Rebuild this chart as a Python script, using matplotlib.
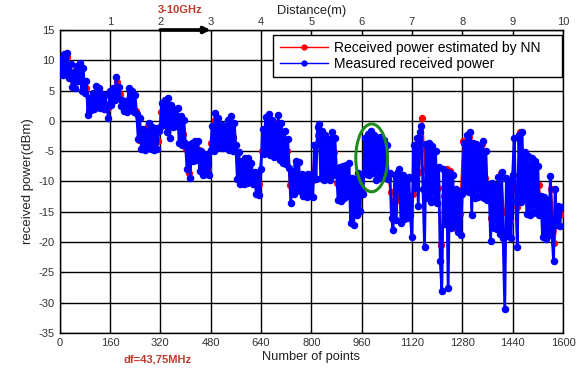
import numpy as np
import matplotlib
matplotlib.use("Agg")
import matplotlib.pyplot as plt
from matplotlib.patches import Ellipse

plt.rcParams["font.family"] = ["Liberation Sans", "DejaVu Sans"]
plt.rcParams["axes.unicode_minus"] = False

# Measured received power (dBm), one sample every 5 points
measured_step = 5
measured = [
    7.8, 10.2, 7.6, 11.0, 8.2, 11.2, 7.0, 9.4, 5.6, 8.0, 5.4, 9.0, 6.6, 9.6, 5.0, 8.8, 4.6, 6.6, 1.0, 3.8,
    1.8, 4.6, 2.0, 5.8, 2.4, 5.4, 2.2, 4.4, 2.0, 4.2, 2.4, 0.5, 5.0, 2.6, 5.4, 3.4, 7.2, 3.8, 5.6, 2.4,
    3.4, 1.6, 3.2, 1.4, 5.4, 2.0, 5.0, 1.4, 4.2, 1.2, -3.0, 0.4, -4.6, -1.4, -4.8, -1.8, -4.0, -0.4, -4.6, -1.0,
    -4.8, -1.2, -4.6, -1.6, -1.0, 3.0, -0.6, 3.4, -1.8, 3.8, -2.8, 2.6, -1.0, 2.0, -0.8, 2.2, -3.6, 0.8, -3.9, 0.2,
    -3.6, -8.0, -4.0, -9.4, -3.6, -6.6, -3.4, -6.4, -3.4, -8.2, -5.0, -9.0, -5.4, -8.8, -5.6, -9.0, -4.8, -0.8, -5.0, 1.3,
    -4.4, 0.4, -4.2, -0.6, -4.4, -0.8, -4.2, 0.2, -4.8, 0.8, -5.0, -0.4, -3.9, -9.6, -5.2, -10.4, -6.6, -10.4, -6.2, -10.2,
    -6.2, -10.0, -7.0, -10.4, -8.4, -12.0, -8.6, -12.2, -8.0, -1.4, -5.4, 0.6, -5.0, 1.1, -5.6, 0.2, -6.0, -0.6, -5.4, 0.9,
    -6.4, -0.4, -7.0, -1.6, -7.1, -3.0, -7.8, -13.6, -8.2, -12.0, -6.6, -11.4, -6.8, -11.6, -8.8, -12.4, -9.0, -12.6, -8.8, -12.2,
    -9.0, -12.6, -4.0, -9.6, -1.0, -0.5, -9.4, -1.6, -9.8, -2.4, -9.6, -3.0, -9.8, -1.9, -9.0, -2.8, -8.0, -13.0, -7.6, -13.2,
    -7.4, -12.8, -7.2, -12.4, -7.0, -16.8, -9.4, -17.2, -9.6, -15.6, -8.6, -14.8, -8.8, -12.0, -2.8, -8.8, -2.2, -9.0, -1.7, -8.6,
    -2.4, -9.8, -3.0, -9.4, -2.6, -8.8, -3.2, -9.2, -4.0, -9.6, -8.6, -16.0, -18.0, -9.0, -16.4, -8.4, -8.0, -16.8, -9.0, -16.2,
    -9.6, -16.0, -9.2, -15.6, -19.2, -4.0, -11.0, -2.8, -14.0, -1.8, -0.8, -11.2, -20.8, -3.8, -12.8, -3.6, -13.4, -4.2, -13.0, -5.0,
    -13.6, -7.6, -23.2, -28.0, -8.0, -17.0, -8.4, -27.6, -8.6, -17.6, -9.0, -17.2, -11.2, -18.4, -11.6, -18.8, -12.0, -3.6, -11.6, -2.4,
    -11.8, -1.9, -15.6, -3.6, -12.8, -3.8, -12.6, -4.2, -12.4, -3.3, -12.8, -5.0, -13.0, -10.4, -19.8, -10.2, -17.6, -10.6, -17.8, -9.2,
    -18.6, -8.5, -19.4, -31.0, -9.4, -19.0, -10.0, -19.4, -9.0, -2.8, -13.2, -20.8, -2.4, -13.4, -1.9, -12.6, -5.2, -15.4, -5.8, -15.6,
    -6.2, -15.2, -6.6, -15.0, -7.4, -15.6, -12.4, -19.2, -12.6, -19.5, -13.0, -18.8, -9.1, -18.2, -23.2, -11.2, -17.2, -14.0, -17.3, -14.2,
]

# Received power estimated by the neural network (dBm), one sample every 10 points
nn_step = 10
nn_offset = 2.5
estimated = [
    9.0, 10.2, 10.6, 8.0, 6.6, 8.4, 8.8, 6.8, 5.4, 1.6,
    2.6, 4.0, 4.6, 3.4, 3.0, 2.2, 3.8, 4.4, 6.4, 4.4,
    2.6, 2.2, 4.6, 3.0, 1.6, -3.2, -3.0, -3.4, -0.8, -2.8,
    -3.0, -3.4, 1.4, 2.2, 2.6, -0.4, 0.4, 0.8, -0.2, -2.2,
    -4.6, -8.6, -5.8, -5.0, -4.8, -7.0, -7.2, -8.0, -3.6, 0.2,
    -1.2, -2.8, -2.4, -2.0, -0.6, -2.6, -5.2, -8.4, -8.6, -8.0,
    -8.0, -8.8, -9.6, -10.4, -5.0, -2.2, -1.0, -3.2, -2.4, -0.4,
    -2.2, -4.2, -5.0, -10.6, -10.2, -7.2, -9.8, -10.6, -10.8, -10.2,
    -10.0, -4.0, -2.4, -2.8, -5.8, -7.2, -4.6, -5.2, -10.2, -11.0,
    -10.2, -11.2, -9.4, -13.6, -14.0, -11.8, -11.4, -3.8, -4.6, -3.6,
    -5.4, -6.6, -5.0, -5.2, -8.6, -11.8, -14.6, -13.0, -10.8, -13.2,
    -12.4, -13.0, -12.0, -5.8, -8.4, 0.4, -8.0, -7.8, -8.0, -7.6,
    -11.0, -20.4, -12.4, -8.0, -8.2, -12.2, -17.8, -15.4, -3.4, -6.6,
    -2.6, -9.2, -7.6, -9.4, -3.8, -9.4, -11.6, -16.0, -13.4, -14.6,
    -8.6, -15.0, -15.0, -16.6, -9.0, -14.2, -1.9, -5.6, -8.4, -10.0,
    -11.6, -8.6, -10.6, -13.6, -16.0, -15.6, -11.2, -20.2, -15.6, -15.4,
]

x_ticks = [0, 160, 320, 480, 640, 800, 960, 1120, 1280, 1440, 1600]
y_ticks = [15, 10, 5, 0, -5, -10, -15, -20, -25, -30, -35]
distance_ticks = [1, 2, 3, 4, 5, 6, 7, 8, 9, 10]
points_per_metre = 160

x_meas = np.arange(len(measured)) * measured_step
x_nn = np.arange(len(estimated)) * nn_step + nn_offset

fig = plt.figure(figsize=(5.84, 3.70), dpi=100)
ax = fig.add_axes([0.102, 0.100, 0.862, 0.819])

ax.plot(x_nn, estimated, color="red", lw=1.4, marker="o", ms=4.2, mec="red", mfc="red",
        label="Received power estimated by NN    ", zorder=3)
ax.plot(x_meas, measured, color="blue", lw=2.0, marker="o", ms=4.4, mec="blue", mfc="blue",
        label="Measured received power", zorder=4)

ax.set_xlim(0, 1600)
ax.set_ylim(-35, 15)
ax.set_xticks(x_ticks)
ax.set_yticks(y_ticks)
ax.tick_params(direction="in", length=3, labelsize=8, colors="black", labelcolor="#333333")
ax.grid(True, color="black", lw=1.0)
for sp in ax.spines.values():
    sp.set_color("black")
    sp.set_linewidth(1.0)

ax.set_xlabel("Number of points", fontsize=9.3, color="#222222", labelpad=2)
ax.set_ylabel("received power(dBm)", fontsize=9.5, color="#222222", labelpad=3)

top = ax.secondary_xaxis("top", functions=(lambda p: p / points_per_metre,
                                           lambda d: d * points_per_metre))
top.set_xticks(distance_ticks)
top.tick_params(direction="in", length=3, labelsize=8, labelcolor="#333333", pad=2)
top.set_xlabel("Distance(m)", fontsize=9.3, color="#222222", labelpad=2)

# Frequency span marker between 2 m and 3 m
ax.annotate("", xy=(480, 15), xytext=(320, 15), annotation_clip=False,
            arrowprops=dict(arrowstyle="-|>", lw=2.6, color="black",
                            mutation_scale=9, shrinkA=0, shrinkB=0), zorder=6)

# Highlighted region
ax.add_patch(Ellipse((992, -6.1), width=101, height=11.2, fill=False,
                     edgecolor="#1f8a1f", lw=2.2, zorder=6))

fig.text(180 / 584, 1 - 10 / 370, "3-10GHz", color="#c0392b", fontsize=8,
         fontweight="bold", ha="center", va="center")
fig.text(158 / 584, 1 - 360 / 370, "df=43,75MHz", color="#c0392b", fontsize=8,
         fontweight="bold", ha="center", va="center")

leg = ax.legend(loc="upper right", bbox_to_anchor=(0.998, 0.985), borderaxespad=0.0,
                fontsize=10, handlelength=3.5, frameon=True, fancybox=False,
                framealpha=1.0, edgecolor="black", borderpad=0.45, labelspacing=0.15,
                handletextpad=0.4)
leg.get_frame().set_linewidth(1.0)
for h in leg.get_lines():
    h.set_linewidth(1.0)
    h.set_markersize(3.5)
leg.set_zorder(10)

fig.savefig("out.png", dpi=100)
